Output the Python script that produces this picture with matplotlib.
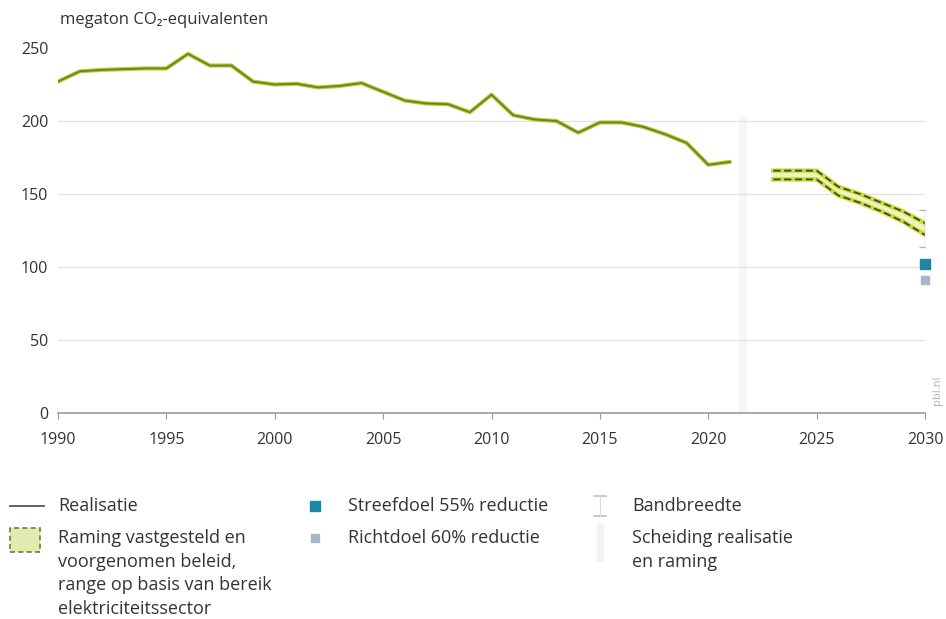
import matplotlib.pyplot as plt
from matplotlib.lines import Line2D
from matplotlib.patches import Rectangle

plt.rcParams['font.family'] = ['Open Sans', 'DejaVu Sans']

# realisatie (megaton CO2-eq)
years = list(range(1990, 2022))
realisatie = [227, 234, 235, 235.5, 236, 236, 246, 238, 238, 227,
              225, 225.5, 223, 224, 226, 220, 214, 212, 211.5, 206,
              218, 204, 201, 200, 192, 199, 199, 196, 191, 185,
              170, 172]

# raming, range
raming_years = list(range(2023, 2031))
raming_hoog = [166, 166, 166, 155, 150, 144, 138, 130]
raming_laag = [160, 160, 160, 149, 144, 138, 131, 122]

# bandbreedte 2030
band_year = 2030
band_laag = 114
band_hoog = 139

streefdoel_55 = 102
richtdoel_60 = 91
scheiding_year = 2021.6

W, H = 946, 619
fig = plt.figure(figsize=(W / 100, H / 100), dpi=100)
ax = fig.add_axes([58 / W, 1 - 413 / H, (925 - 58) / W, (413 - 48) / H])

dark = '#3f4a12'
txt = '#333333'

ax.axvline(scheiding_year, ymin=0, ymax=0.8, color='#f6f6f6', lw=6, zorder=0)
for g in [50, 100, 150, 200]:
    ax.axhline(g, color='#e3e3e3', lw=0.9, zorder=1)

ax.plot(years, realisatie, color='#b7cc45', lw=3.0, zorder=3, solid_capstyle='round')
ax.plot(years, realisatie, color='#6a8414', lw=1.3, zorder=4)

ax.fill_between(raming_years, raming_laag, raming_hoog, color='#eef3bf', zorder=2)
for serie in (raming_hoog, raming_laag):
    ax.plot(raming_years, serie, color='#c9dc3c', lw=3.2, zorder=3)
    ax.plot(raming_years, serie, color=dark, lw=1.3, ls=(0, (4, 2)), zorder=4)

ax.errorbar([band_year], [(band_laag + band_hoog) / 2],
            yerr=[[(band_hoog - band_laag) / 2], [(band_hoog - band_laag) / 2]],
            fmt='none', ecolor='#b5b5b5', elinewidth=1, capsize=4, zorder=5)
ax.plot([band_year], [streefdoel_55], marker='s', ms=7, color='#1b87a3', zorder=6, clip_on=False)
ax.plot([band_year], [richtdoel_60], marker='s', ms=6, color='#a9b3c9', zorder=6, clip_on=False)

ax.set_xlim(1990, 2030)
ax.set_ylim(0, 250)
ax.set_xticks(range(1990, 2031, 5))
ax.set_yticks(range(0, 251, 50))
for s in ['top', 'right', 'left']:
    ax.spines[s].set_visible(False)
ax.spines['bottom'].set_color('#9a9a9a')
ax.spines['bottom'].set_linewidth(1.2)
ax.tick_params(axis='x', length=4, color='#9a9a9a', labelsize=11.5, labelcolor=txt, pad=10)
ax.tick_params(axis='y', length=0, labelsize=11.5, labelcolor=txt, pad=7)

fig.text(60 / W, 1 - 20 / H, 'megaton CO\u2082-equivalenten', fontsize=12, color=txt, va='center')
fig.text(937 / W, 1 - 390 / H, 'pbl.nl', rotation=90, fontsize=8, color='#b0b0b0', va='center', ha='center')


def fx(x):
    return x / W


def fy(y):
    return 1 - y / H


fs = 13
ls = 1.4
# kolom 1
fig.add_artist(Line2D([fx(10), fx(44)], [fy(506), fy(506)], color='#555555', lw=1.3))
fig.text(fx(58), fy(506), 'Realisatie', fontsize=fs, color=txt, va='center')
fig.add_artist(Rectangle((fx(10), fy(552)), fx(30), 24 / H, facecolor='#e3ebb0',
                         edgecolor='#6f7a3a', lw=1.2, ls=(0, (3, 2))))
fig.text(fx(58), fy(529), 'Raming vastgesteld en\nvoorgenomen beleid,\nrange op basis van bereik\nelektriciteitssector',
         fontsize=fs, color=txt, va='top', linespacing=ls)

# kolom 2
fig.add_artist(Line2D([fx(315)], [fy(506)], marker='s', ms=7, color='#1b87a3'))
fig.text(fx(348), fy(506), 'Streefdoel 55% reductie', fontsize=fs, color=txt, va='center')
fig.add_artist(Line2D([fx(315)], [fy(538)], marker='s', ms=6, color='#a9b3c9'))
fig.text(fx(348), fy(538), 'Richtdoel 60% reductie', fontsize=fs, color=txt, va='center')

# kolom 3
fig.add_artist(Line2D([fx(594), fx(606)], [fy(496), fy(496)], color='#bdbdbd', lw=1.2))
fig.add_artist(Line2D([fx(594), fx(606)], [fy(516), fy(516)], color='#bdbdbd', lw=1.2))
fig.add_artist(Line2D([fx(600), fx(600)], [fy(496), fy(516)], color='#dddddd', lw=0.8))
fig.add_artist(Line2D([fx(600), fx(600)], [fy(527), fy(558)], color='#f2f2f2', lw=5))
fig.text(fx(632), fy(506), 'Bandbreedte', fontsize=fs, color=txt, va='center')
fig.text(fx(632), fy(529), 'Scheiding realisatie\nen raming', fontsize=fs, color=txt, va='top', linespacing=ls)

fig.savefig('out.png', dpi=100, facecolor='white')
